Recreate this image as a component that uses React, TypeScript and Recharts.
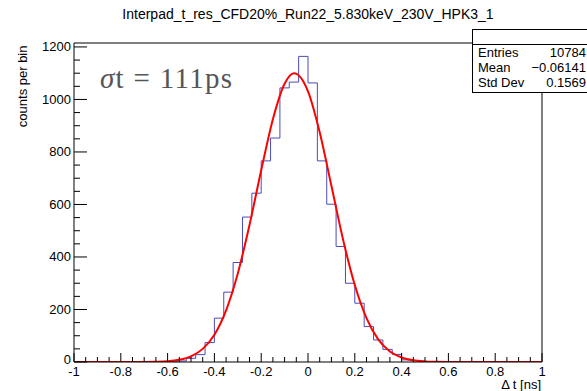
import { ComposedChart, Line, XAxis, YAxis, ReferenceLine } from "recharts"

// ROOT-style histogram: 50 bins of 0.04 ns from -1 to 1
const title = "Interpad_t_res_CFD20%_Run22_5.830keV_230V_HPK3_1"
const binStart = -1
const binWidth = 0.04
const counts = [
  0, 0, 0, 0, 0, 0, 0, 0, 0, 0,
  1, 4, 14, 28, 74, 167, 266, 379, 552, 643,
  766, 853, 1044, 1066, 1164, 1063, 766, 601, 440, 300,
  224, 135, 84, 48, 29, 8, 5, 1, 0, 0,
  0, 0, 0, 0, 0, 0, 0, 0, 0, 0,
]

// gaussian fit
const fitX = [-1, -0.8, -0.7, -0.65, -0.6, -0.55, -0.5, -0.45, -0.4, -0.35, -0.3, -0.25, -0.2, -0.15, -0.1, -0.06, 0, 0.05, 0.1, 0.15, 0.2, 0.25, 0.3, 0.35, 0.4, 0.45, 0.5, 0.55, 0.6, 0.8, 1]
const fitY = [0, 0, 0.3, 1, 3, 8.5, 21.6, 50, 104, 197, 337, 522, 730, 925, 1060, 1100, 1031, 875, 671, 466, 293, 167, 86, 40, 17, 6.4, 2.2, 0.7, 0.2, 0, 0]

const xMajorTicks = [-1, -0.8, -0.6, -0.4, -0.2, 0, 0.2, 0.4, 0.6, 0.8, 1]
const xMinorStep = 0.05
const yMajorTicks = [0, 200, 400, 600, 800, 1000, 1200]
const yMinorStep = 50
const yMax = 1215

const statsNames = ["Entries", "Mean", "Std Dev"]
const statsValues = ["10784", "\u22120.06141", "0.1569"]

const font = "'Liberation Sans', Arial, sans-serif"

const histData = counts.map((c, i) => ({ x: +(binStart + i * binWidth).toFixed(2), y: c }))
histData.push({ x: 1, y: counts[counts.length - 1] })

const fitData = fitX.map((x, i) => ({ x, y: fitY[i] }))

const xTicks: number[] = []
for (let v = -1; v <= 1.0001; v += xMinorStep) xTicks.push(+v.toFixed(2))
const yTicks: number[] = []
for (let v = 0; v <= 1200; v += yMinorStep) yTicks.push(v)

const isMajor = (list: number[], v: number) => list.some((m) => Math.abs(m - v) < 1e-6)

const XTick = (props: any) => {
  const { x, y, payload } = props
  const v = payload.value
  const major = isMajor(xMajorTicks, v)
  return (
    <g>
      <line x1={x} x2={x} y1={y} y2={y - (major ? 9 : 5)} stroke="#000" />
      {major && (
        <text x={x} y={y + 14} textAnchor="middle" fontSize={13} fontFamily={font} fill="#000">
          {String(+v.toFixed(2))}
        </text>
      )}
    </g>
  )
}

const YTick = (props: any) => {
  const { x, y, payload } = props
  const v = payload.value
  const major = isMajor(yMajorTicks, v)
  return (
    <g>
      <line x1={x} x2={x + (major ? 13 : 6)} y1={y} y2={y} stroke="#000" />
      {major && (
        <text x={x - 3} y={y + (v === 0 ? 2 : 4.5)} textAnchor="end" fontSize={13} fontFamily={font} fill="#000">
          {v}
        </text>
      )}
    </g>
  )
}

export default function App() {
  return (
    <div style={{ position: "absolute", left: 0, top: 0, width: 587, height: 391, background: "#fff", overflow: "hidden" }}>
      <ComposedChart width={587} height={391} margin={{ top: 43, right: 45, bottom: 4, left: 14 }}>
        <XAxis
          type="number"
          dataKey="x"
          domain={[-1, 1]}
          ticks={xTicks}
          interval={0}
          tickSize={0}
          tickMargin={0}
          height={25}
          tick={<XTick />}
          axisLine={{ stroke: "#000" }}
          allowDataOverflow
        />
        <YAxis
          type="number"
          dataKey="y"
          domain={[0, yMax]}
          ticks={yTicks}
          interval={0}
          tickSize={0}
          tickMargin={0}
          width={60}
          tick={<YTick />}
          axisLine={{ stroke: "#000" }}
          allowDataOverflow
        />
        <ReferenceLine y={yMax} stroke="#000" ifOverflow="visible" />
        <ReferenceLine x={1} stroke="#000" ifOverflow="visible" />
        <Line
          data={histData}
          dataKey="y"
          type="stepAfter"
          stroke="#4b4bb8"
          strokeWidth={1}
          dot={false}
          isAnimationActive={false}
        />
        <Line
          data={fitData}
          dataKey="y"
          type="monotone"
          stroke="#ff0000"
          strokeWidth={2}
          dot={false}
          isAnimationActive={false}
        />
      </ComposedChart>

      <div style={{ position: "absolute", left: 0, width: 616, top: 6, textAlign: "center", fontFamily: font, fontSize: 14, color: "#000" }}>
        {title}
      </div>

      <div style={{ position: "absolute", left: 100, top: 62, fontFamily: "'Liberation Serif', 'DejaVu Serif', serif", fontSize: 29, letterSpacing: 1.3, color: "#555" }}>
        <span style={{ fontStyle: "italic" }}>σ</span>t = 111ps
      </div>

      <div style={{ position: "absolute", left: 300, width: 241, top: 378, lineHeight: 1, textAlign: "right", fontFamily: font, fontSize: 13 }}>
        Δ t [ns]
      </div>

      <div
        style={{
          position: "absolute",
          left: 15,
          top: 45,
          width: 14,
          height: 120,
          fontFamily: font,
          fontSize: 13,
        }}
      >
        <div style={{ position: "absolute", right: -53, top: 53, width: 120, transform: "rotate(-90deg)", transformOrigin: "center", textAlign: "right", whiteSpace: "nowrap" }}>
          counts per bin
        </div>
      </div>

      <div
        style={{
          position: "absolute",
          left: 472,
          top: 29,
          width: 120,
          height: 62,
          border: "1px solid #000",
          background: "#fff",
          fontFamily: font,
          fontSize: 13,
          color: "#000",
        }}
      >
        <div style={{ height: 14, borderBottom: "1px solid #000" }} />
        {statsNames.map((n, i) => (
          <div key={n} style={{ position: "relative", height: 15, lineHeight: "15px" }}>
            <span style={{ position: "absolute", left: 5 }}>{n}</span>
            <span style={{ position: "absolute", right: 7 }}>{statsValues[i]}</span>
          </div>
        ))}
      </div>
    </div>
  )
}
